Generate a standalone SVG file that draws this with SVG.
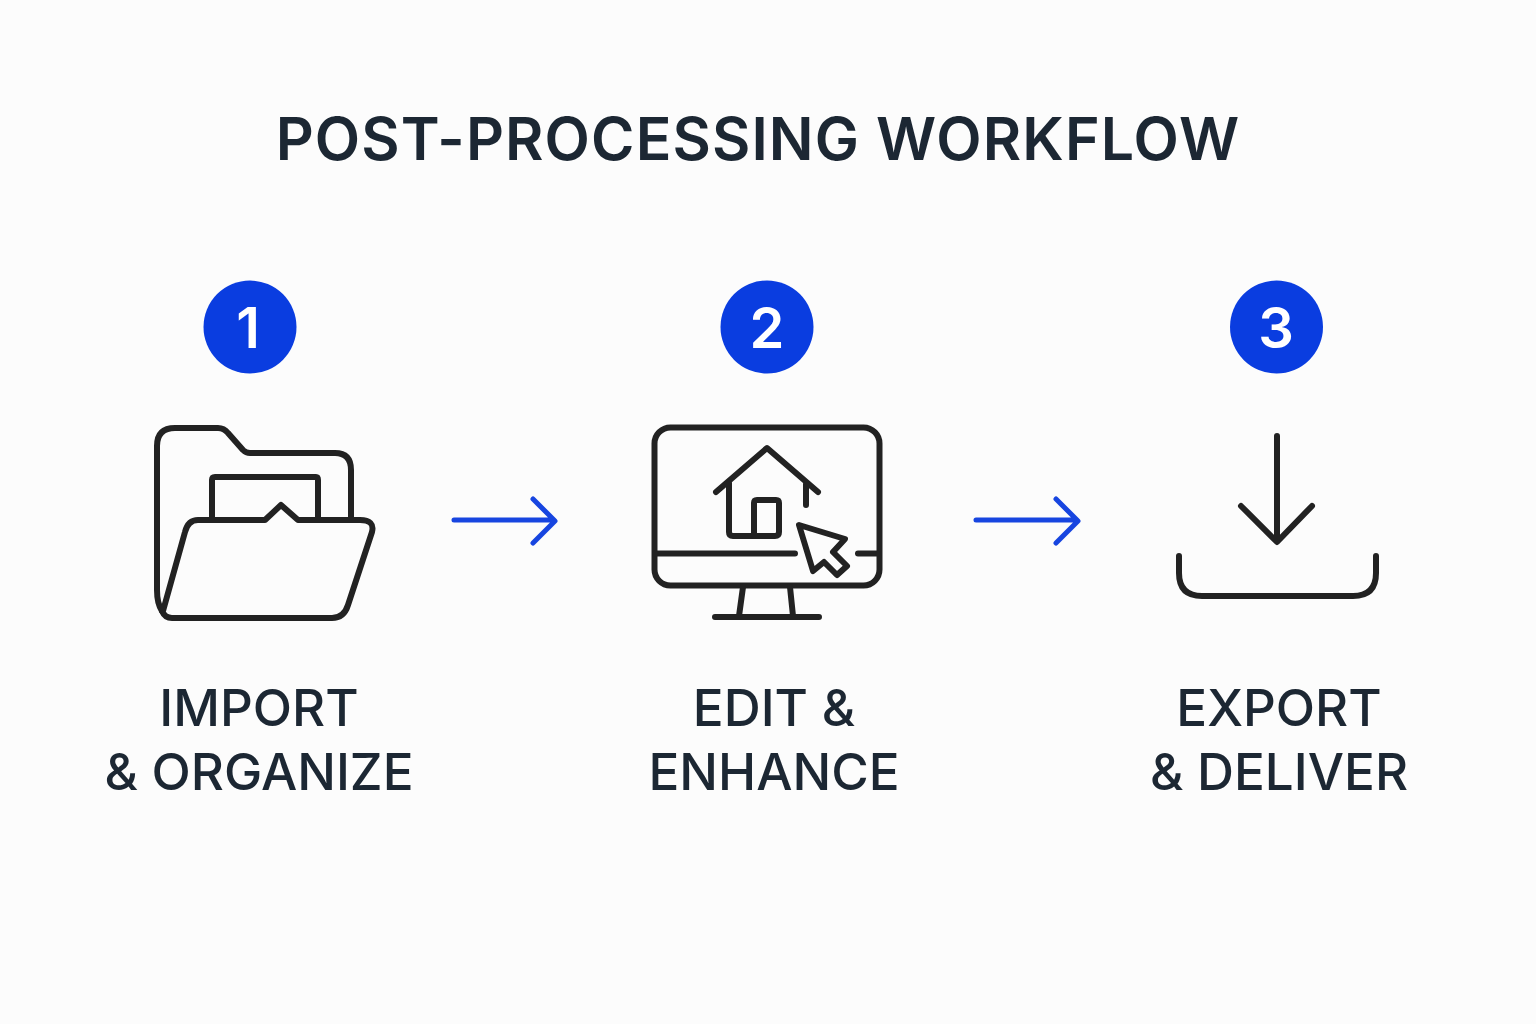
<svg xmlns="http://www.w3.org/2000/svg" width="1536" height="1024" viewBox="0 0 1536 1024">
<style>
.t{font-family:Inter,"Liberation Sans",sans-serif;fill:#1c2733;text-anchor:middle}
.title{font-size:59px;font-weight:600;letter-spacing:1.1px}
.lab{font-size:51.200px;font-weight:500}
.num{font-family:Inter,"Liberation Sans",sans-serif;font-size:56px;font-weight:600;fill:#fff;text-anchor:middle}
.badge{fill:#0a3de0}
.ic{fill:none;stroke:#222;stroke-width:6;stroke-linecap:round;stroke-linejoin:round}
.ar{fill:none;stroke:#1745e0;stroke-width:5;stroke-linecap:round;stroke-linejoin:round}
</style>
<rect width="1536" height="1024" fill="#fcfcfc"/>
<text id="title" class="t title" x="758" y="160">POST-PROCESSING WORKFLOW</text>
<g id="connectors">
<path class="ar" d="M454 520H554M533 499L555 521L533 543"/>
<path class="ar" d="M976 520H1077M1056 499L1078 521L1056 543"/>
</g>
<g id="step1">
<circle class="badge" cx="250" cy="327" r="46.500"/>
<text class="num" x="248" y="348">1</text>
<path class="ic" d="M162 611C158 605 157 598 157 590V446Q157 428 175 428H218Q224 428 228 433L243 450Q246 453 250 453H335Q351 453 351 470V519"/>
<path class="ic" d="M212 519V480Q212 477 215 477H316Q318 477 318 480V519"/>
<path class="ic" d="M163 611L185 532Q188 520 198 520H265L281 505L298 520H360Q375 520 372 532L348 605Q344 618 332 618H172Q165 618 162 611Z"/>
<text class="t lab" x="259" y="726">IMPORT</text>
<text class="t lab" x="259" y="790">&amp; ORGANIZE</text>
</g>
<g id="step2">
<circle class="badge" cx="767" cy="327" r="46.500"/>
<text class="num" x="767" y="348">2</text>
<rect class="ic" x="654.500" y="427.500" width="225" height="158" rx="16"/>
<path class="ic" d="M655 553.500H795M858 553.500H878M743 587L739 616M790 587L793 616M715 617H819"/>
<path class="ic" d="M716 492L767 448L818 492M729 483V532Q729 536 733 536H775Q779 536 779 532V503Q779 500 776 500H757Q754 500 754 503V536M806 484V505"/>
<path class="ic" d="M799 525L845 539L833 552L847 566L837 575L824 562L813 571Z"/>
<text class="t lab" x="774" y="726">EDIT &amp;</text>
<text class="t lab" x="774" y="790">ENHANCE</text>
</g>
<g id="step3">
<circle class="badge" cx="1276.500" cy="327" r="46.500"/>
<text class="num" x="1276" y="348">3</text>
<path class="ic" d="M1277 436V541M1241 506L1277 542L1312 506M1179 556V573Q1179 596 1202 596H1353Q1376 596 1376 573V556"/>
<text class="t lab" x="1279" y="726">EXPORT</text>
<text class="t lab" x="1279" y="790">&amp; DELIVER</text>
</g>
</svg>
